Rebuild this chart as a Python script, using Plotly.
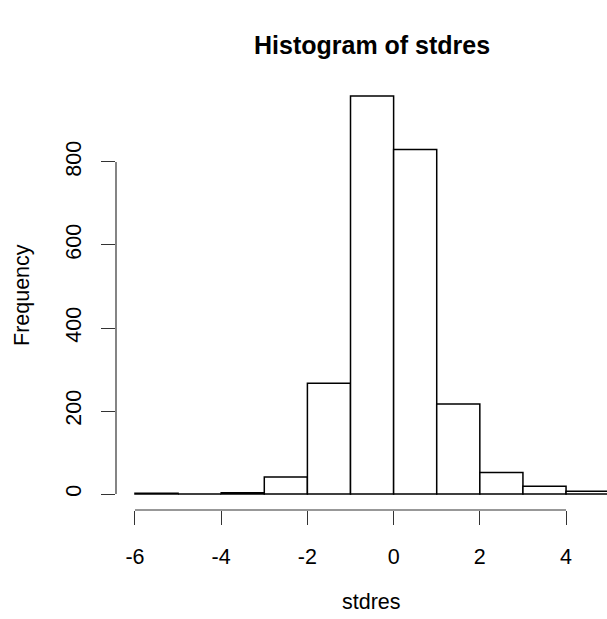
import plotly.graph_objects as go

breaks = [-6, -5, -4, -3, -2, -1, 0, 1, 2, 3, 4, 5]
counts = [2, 0, 3, 41, 267, 959, 830, 217, 52, 19, 7]
x_ticks = [-6, -4, -2, 0, 2, 4]
x_tick_text = ["-6", "-4", "-2", "0", "2", "4"]
y_ticks = [0, 200, 400, 600, 800]
y_tick_text = ["0", "200", "400", "600", "800"]

centers = [(breaks[i] + breaks[i + 1]) / 2 for i in range(len(counts))]
widths = [breaks[i + 1] - breaks[i] for i in range(len(counts))]

font = "Liberation Sans, Arial, sans-serif"

fig = go.Figure(go.Bar(
    x=centers, y=counts, width=widths,
    marker=dict(color="white", line=dict(color="black", width=1.5)),
    hoverinfo="x+y",
))

fig.update_layout(
    width=607, height=619,
    margin=dict(l=116, r=0, t=80, b=109),
    paper_bgcolor="white", plot_bgcolor="white",
    showlegend=False,
    font=dict(family=font, size=21.5, color="black"),
    xaxis=dict(range=[-6.44, 4.95], tickvals=x_ticks, ticktext=x_tick_text,
               ticks="outside", ticklen=14, tickwidth=1.2, tickcolor="#333",
               showgrid=False, zeroline=False, showline=False,
               ticklabelstandoff=13),
    yaxis=dict(range=[-38.4, 997.4], tickvals=y_ticks, ticktext=y_tick_text,
               ticks="outside", ticklen=14, tickwidth=1.2, tickcolor="#333",
               tickangle=-90,
               showgrid=False, zeroline=False, showline=False,
               ticklabelstandoff=11),
    shapes=[
        dict(type="line", xref="x", yref="paper", x0=x_ticks[0], x1=x_ticks[-1],
             y0=0, y1=0, line=dict(color="#333", width=1.2)),
        dict(type="line", xref="paper", yref="y", x0=0, x1=0,
             y0=y_ticks[0], y1=y_ticks[-1], line=dict(color="#333", width=1.2)),
    ],
    annotations=[
        dict(text="<b>Histogram of stdres</b>", xref="paper", yref="paper",
             x=0.521, y=1, yshift=35, showarrow=False,
             font=dict(family=font, size=25), xanchor="center", yanchor="middle"),
        dict(text="stdres", xref="paper", yref="paper", x=0.521, y=0, yshift=-92,
             showarrow=False, font=dict(family=font, size=21.5),
             xanchor="center", yanchor="middle"),
        dict(text="Frequency", xref="paper", yref="paper", x=0, xshift=-94, y=0.5,
             textangle=-90, showarrow=False, font=dict(family=font, size=21.5),
             xanchor="center", yanchor="middle"),
    ],
)

fig.write_html("out.html")
